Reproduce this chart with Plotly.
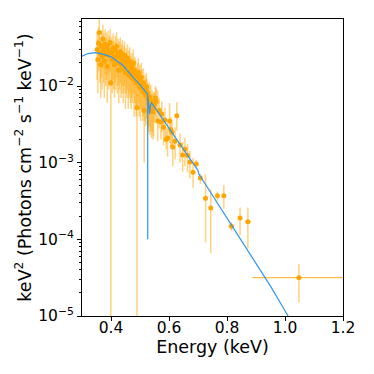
import plotly.graph_objects as go

# ---- data: spectrum points ----
energy = [0.352, 0.3545, 0.357, 0.3595, 0.362, 0.3645, 0.367, 0.3695, 0.372, 0.3745,
          0.377, 0.3795, 0.382, 0.3845, 0.387, 0.3895, 0.392, 0.3945, 0.397, 0.3995,
          0.402, 0.4045, 0.407, 0.4095, 0.412, 0.4145, 0.417, 0.4195, 0.422, 0.4245,
          0.427, 0.4295, 0.432, 0.4345, 0.437, 0.4395, 0.442, 0.4445, 0.447, 0.4495,
          0.452, 0.4545, 0.457, 0.4595, 0.462, 0.4645, 0.467, 0.4695, 0.472, 0.4745,
          0.477, 0.4795, 0.482, 0.4845, 0.487, 0.4895, 0.492, 0.4945, 0.497, 0.4995,
          0.502, 0.5045, 0.507, 0.5095, 0.512, 0.5145, 0.517, 0.5195, 0.522, 0.5245,
          0.527, 0.5295, 0.532, 0.5345, 0.537, 0.5395, 0.542, 0.5445, 0.547,
          0.550, 0.553, 0.556, 0.561, 0.566, 0.572, 0.575, 0.581, 0.586, 0.590,
          0.595, 0.602, 0.606, 0.610, 0.613, 0.621, 0.627, 0.638, 0.647, 0.655,
          0.664, 0.672, 0.683, 0.694, 0.708, 0.726, 0.744, 0.767, 0.789, 0.815,
          0.845, 0.872, 1.048]

flux = [0.030, 0.022, 0.036, 0.050, 0.027, 0.019, 0.033, 0.024, 0.041, 0.029,
        0.021, 0.035, 0.026, 0.031, 0.018, 0.034, 0.025, 0.028, 0.037, 0.011,
        0.027, 0.022, 0.031, 0.024, 0.019, 0.029, 0.023, 0.033, 0.020, 0.026,
        0.016, 0.024, 0.028, 0.019, 0.022, 0.026, 0.017, 0.021, 0.025, 0.015,
        0.020, 0.018, 0.023, 0.014, 0.019, 0.021, 0.016, 0.013, 0.018, 0.015,
        0.020, 0.012, 0.016, 0.014, 0.011, 0.0052, 0.013, 0.015, 0.010, 0.012,
        0.0095, 0.013, 0.0105, 0.0085, 0.011, 0.0048, 0.0090, 0.0075, 0.0098, 0.0082,
        0.0068, 0.0060, 0.0072, 0.0055, 0.0064, 0.0049, 0.0058, 0.0046, 0.0052,
        0.0058, 0.0070, 0.0063, 0.0035, 0.0048, 0.0034, 0.0043, 0.0029, 0.0036, 0.0020,
        0.0021, 0.0035, 0.0027, 0.0025, 0.0016, 0.0019, 0.0041, 0.0017, 0.00126, 0.0015,
        0.00125, 0.00102, 0.00075, 0.00096, 0.00063, 0.000343, 0.000257, 0.00037, 0.00037, 0.000148,
        0.00019, 0.00017, 0.0000316]

flux_err_up = [0.020, 0.018, 0.022, 0.030, 0.017, 0.016, 0.020, 0.018, 0.022, 0.019,
               0.017, 0.020, 0.016, 0.019, 0.014, 0.018, 0.016, 0.017, 0.019, 0.012,
               0.016, 0.015, 0.017, 0.015, 0.013, 0.016, 0.014, 0.017, 0.013, 0.015,
               0.012, 0.014, 0.015, 0.012, 0.013, 0.014, 0.011, 0.012, 0.013, 0.010,
               0.011, 0.010, 0.012, 0.009, 0.010, 0.011, 0.009, 0.008, 0.009, 0.008,
               0.010, 0.007, 0.008, 0.008, 0.007, 0.005, 0.007, 0.008, 0.006, 0.007,
               0.006, 0.007, 0.006, 0.005, 0.006, 0.004, 0.005, 0.005, 0.005, 0.004,
               0.004, 0.004, 0.004, 0.003, 0.004, 0.003, 0.003, 0.003, 0.003,
               0.0025, 0.003, 0.0032, 0.0052, 0.0022, 0.0018, 0.0020, 0.0015, 0.0016, 0.0008,
               0.0012, 0.0025, 0.0012, 0.0011, 0.0009, 0.0010, 0.0021, 0.0007, 0.0006, 0.0006,
               0.0005, 0.0004, 0.0004, 0.00012, 0.00008, 0.00036, 0.00019, 0.00005, 0.00014, 0.00002,
               0.00007, 0.00009, 0.0000164]

flux_err_dn = [0.018, 0.014, 0.020, 0.028, 0.016, 0.012, 0.020, 0.015, 0.024, 0.018,
               0.014, 0.021, 0.016, 0.019, 0.012, 0.020, 0.016, 0.018, 0.022, 0.02,
               0.017, 0.014, 0.019, 0.015, 0.012, 0.018, 0.014, 0.020, 0.012, 0.016,
               0.010, 0.015, 0.017, 0.012, 0.014, 0.016, 0.011, 0.013, 0.015, 0.010,
               0.012, 0.011, 0.014, 0.009, 0.012, 0.013, 0.010, 0.008, 0.011, 0.009,
               0.012, 0.008, 0.010, 0.009, 0.007, 0.01, 0.008, 0.009, 0.006, 0.007,
               0.006, 0.008, 0.006, 0.005, 0.007, 0.0038, 0.0055, 0.0045, 0.006, 0.005,
               0.004, 0.0035, 0.0042, 0.0032, 0.0038, 0.0028, 0.0033, 0.0026, 0.003,
               0.0025, 0.003, 0.0028, 0.0016, 0.002, 0.0014, 0.0018, 0.0012, 0.0015, 0.0005,
               0.0009, 0.0017, 0.0011, 0.0010, 0.0007, 0.0008, 0.0015, 0.0007, 0.0005, 0.0006,
               0.0005, 0.0004, 0.00028, 0.00012, 0.0001, 0.000252, 0.000191, 0.00005, 0.00012, 0.00002,
               0.000078, 0.000094, 0.0000166]

energy_err = [0.0] * 102 + [0.005, 0.0, 0.0, 0.0, 0.006, 0.006, 0.010, 0.0, 0.010, 0.16]

# ---- data: model curve ----
model_energy = [0.300, 0.320, 0.345, 0.370, 0.400, 0.440, 0.480, 0.500, 0.520, 0.5265,
                0.5266, 0.5267, 0.530, 0.533, 0.536, 0.540, 0.555, 0.600, 0.650, 0.676,
                0.700, 0.703, 0.750, 0.800, 0.850, 0.900, 0.950, 1.000, 1.020]
model_flux = [0.0245, 0.0265, 0.0272, 0.0262, 0.0240, 0.0188, 0.0125, 0.0104, 0.0083, 0.0078,
              0.0001, 0.0072, 0.0058, 0.0043, 0.0056, 0.0060, 0.0050, 0.00282, 0.00151, 0.00110,
              0.00079, 0.00071, 0.000372, 0.000186, 0.0000955, 0.000049, 0.0000245, 0.0000117, 0.0000087]

x_ticks = [0.4, 0.6, 0.8, 1.0, 1.2]
x_tick_text = ["0.4", "0.6", "0.8", "1.0", "1.2"]
y_ticks = [1e-5, 1e-4, 1e-3, 1e-2]
y_tick_text = ["10<sup>−5</sup>", "10<sup>−4</sup>", "10<sup>−3</sup>", "10<sup>−2</sup>"]

minor_y = [m * 10.0 ** e for e in (-5, -4, -3, -2) for m in range(2, 10)]

fig = go.Figure()
fig.add_trace(go.Scatter(
    x=energy, y=flux, mode="markers",
    marker=dict(color="#FFA500", size=5),
    error_y=dict(type="data", symmetric=False, array=flux_err_up, arrayminus=flux_err_dn,
                 color="rgba(255,165,0,0.5)", thickness=1.5, width=0),
    error_x=dict(type="data", array=energy_err, color="rgba(255,165,0,0.75)",
                 thickness=1.2, width=0),
    showlegend=False,
))
fig.add_trace(go.Scatter(
    x=model_energy, y=model_flux, mode="lines",
    line=dict(color="#2f97f0", width=1.2), showlegend=False,
))

font = "DejaVu Sans"
fig.update_layout(
    width=366, height=366,
    margin=dict(l=74, r=31, t=11, b=58, autoexpand=False),
    paper_bgcolor="white", plot_bgcolor="white",
    font=dict(family=font, color="black", size=15.5),
    xaxis=dict(range=[0.3, 1.2], tickvals=x_ticks, ticktext=x_tick_text,
               ticks="outside", ticklen=4, tickwidth=1, tickcolor="black",
               ticklabelstandoff=-7,
               showline=True, linecolor="black", linewidth=1, mirror=True,
               showgrid=False, zeroline=False, automargin=False,
               title=dict(text="Energy (keV)", font=dict(size=17.5), standoff=0),
               tickfont=dict(size=15.5)),
    yaxis=dict(type="log", range=[-5, -1.126], tickvals=y_ticks, ticktext=y_tick_text,
               ticks="outside", ticklen=4, tickwidth=1, tickcolor="black",
               minor=dict(tickvals=minor_y, ticks="outside", ticklen=2, tickcolor="black",
                          showgrid=False),
               showline=True, linecolor="black", linewidth=1, mirror=True,
               showgrid=False, zeroline=False, automargin=False,
               title=dict(text="keV<sup>2</sup> (Photons cm<sup>−2</sup> s<sup>−1</sup> keV<sup>−1</sup>)",
                          font=dict(size=17.5), standoff=2),
               tickfont=dict(size=15.5)),
)

fig.write_html("out.html")
